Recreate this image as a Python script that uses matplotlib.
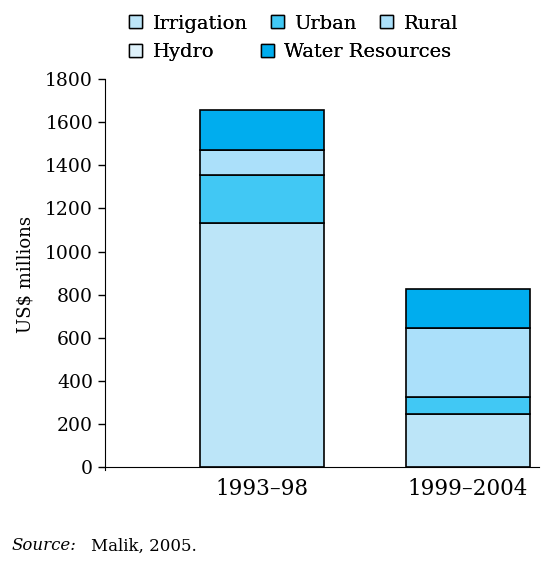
import numpy as np
import matplotlib
matplotlib.use("Agg")
import matplotlib.pyplot as plt
from matplotlib.patches import Patch

plt.rcParams["font.family"] = "DejaVu Serif"

periods = ["1993\u201398", "1999\u20132004"]
irrigation = [1130, 245]
urban = [225, 80]
rural = [115, 320]
hydro = [0, 0]
water_resources = [185, 180]

series = [
    ("Irrigation", irrigation, "#bce5f8"),
    ("Urban", urban, "#41c8f4"),
    ("Rural", rural, "#abe0fa"),
    ("Hydro", hydro, "#dff2fb"),
    ("Water Resources", water_resources, "#00adee"),
]

fig = plt.figure(figsize=(5.58, 5.64), dpi=100)
ax = fig.add_axes([0.188, 0.167, 0.778, 0.693])

x = np.arange(len(periods))
bottom = np.zeros(len(periods))
for name, vals, col in series:
    vals = np.array(vals, dtype=float)
    ax.bar(x, vals, width=0.6, bottom=bottom, color=col,
           edgecolor="black", linewidth=1.2, zorder=2)
    bottom += vals

ax.set_xlim(-0.762, 1.345)
ax.set_ylim(-12, 1800)
ax.set_yticks(range(0, 1801, 200))
ax.set_xticks(x)
ax.set_xticklabels(periods)
ax.tick_params(axis="y", labelsize=13.5, direction="out", length=5, width=1)
ax.tick_params(axis="x", labelsize=15.5, length=0, pad=8)
ax.spines["top"].set_visible(False)
ax.spines["right"].set_visible(False)
ax.spines["bottom"].set_position(("data", 0))
ax.spines["left"].set_bounds(-12, 1800)
ax.set_ylabel("US$ millions", fontsize=13, labelpad=8)


def legend_row(idx, y, colspace):
    handles = [Patch(facecolor=series[i][2], edgecolor="black", linewidth=1)
               for i in idx]
    labels = [series[i][0] for i in idx]
    leg = fig.legend(handles, labels, ncol=len(idx), loc="upper left",
                     bbox_to_anchor=(0.232, y), frameon=False, fontsize=14,
                     handlelength=0.65, handleheight=0.65, handletextpad=0.55,
                     columnspacing=colspace, borderpad=0, borderaxespad=0)
    fig.add_artist(leg)


legend_row([0, 1, 2], 0.974, 1.2)
legend_row([3, 4], 0.924, 2.4)

fig.text(0.02, 0.032, "Source:", style="italic", fontsize=12, va="center")
fig.text(0.163, 0.032, "Malik, 2005.", fontsize=12, va="center")

fig.savefig("out.png", dpi=100)
